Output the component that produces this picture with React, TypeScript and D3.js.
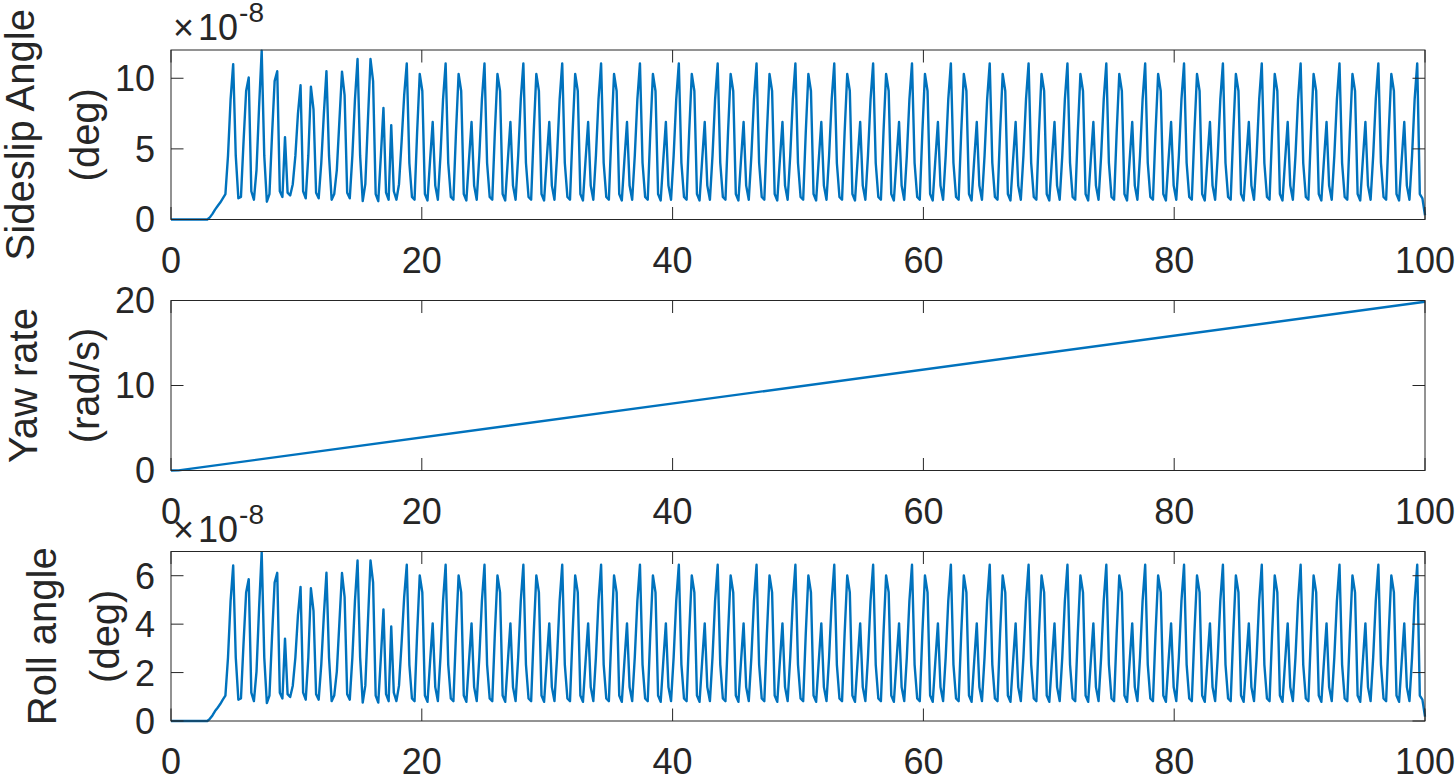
import React from 'react';
import * as d3 from 'd3';

// ---------- data ----------
const timeStep = 100 / 484; // uniform sample spacing of the simulation output (s)

const xTicks = [0, 20, 40, 60, 80, 100];
const sideslipTicks = [0, 5, 10];
const yawTicks = [0, 10, 20];
const rollTicks = [0, 2, 4, 6];

// sideslip angle (x1e-8 deg), 485 samples
const sideslipValues = [
  0,0,0,0,0,0,0,0,0,0,0,0,0,0,0,
  0.15,0.4,0.7,0.95,1.2,1.5,1.8,4.5,8.5,11.0,4.5,1.5,1.6,5.5,9.1,
  10.05,2.0,1.4,3.5,8.0,11.95,4.5,1.26,1.8,6.0,9.8,10.5,2.0,1.6,5.83,
  1.9,1.7,2.5,4.5,7.5,9.5,2.0,1.5,4.5,9.4,7.8,1.9,1.5,4.0,7.5,
  10.5,4.5,1.4,1.8,3.5,7.0,10.47,8.8,1.9,1.5,4.5,8.5,11.36,4.5,1.3,
  2.5,7.0,11.36,9.8,1.8,1.3,4.5,7.9,1.9,1.4,6.68,2.0,1.4,2.5,5.5,
  8.8,
  /* 01 */ 11.05,4.0,1.6,1.4,6.2,10.3,9.1,1.8,1.35,4.2,6.9,2.4,1.4,4.5,8.5,
  /* 02 */ 11.05,4.0,1.6,1.4,6.2,10.3,9.1,1.8,1.35,4.2,6.9,2.4,1.4,4.5,8.5,
  /* 03 */ 11.05,4.0,1.6,1.4,6.2,10.3,9.1,1.8,1.35,4.2,6.9,2.4,1.4,4.5,8.5,
  /* 04 */ 11.05,4.0,1.6,1.4,6.2,10.3,9.1,1.8,1.35,4.2,6.9,2.4,1.4,4.5,8.5,
  /* 05 */ 11.05,4.0,1.6,1.4,6.2,10.3,9.1,1.8,1.35,4.2,6.9,2.4,1.4,4.5,8.5,
  /* 06 */ 11.05,4.0,1.6,1.4,6.2,10.3,9.1,1.8,1.35,4.2,6.9,2.4,1.4,4.5,8.5,
  /* 07 */ 11.05,4.0,1.6,1.4,6.2,10.3,9.1,1.8,1.35,4.2,6.9,2.4,1.4,4.5,8.5,
  /* 08 */ 11.05,4.0,1.6,1.4,6.2,10.3,9.1,1.8,1.35,4.2,6.9,2.4,1.4,4.5,8.5,
  /* 09 */ 11.05,4.0,1.6,1.4,6.2,10.3,9.1,1.8,1.35,4.2,6.9,2.4,1.4,4.5,8.5,
  /* 10 */ 11.05,4.0,1.6,1.4,6.2,10.3,9.1,1.8,1.35,4.2,6.9,2.4,1.4,4.5,8.5,
  /* 11 */ 11.05,4.0,1.6,1.4,6.2,10.3,9.1,1.8,1.35,4.2,6.9,2.4,1.4,4.5,8.5,
  /* 12 */ 11.05,4.0,1.6,1.4,6.2,10.3,9.1,1.8,1.35,4.2,6.9,2.4,1.4,4.5,8.5,
  /* 13 */ 11.05,4.0,1.6,1.4,6.2,10.3,9.1,1.8,1.35,4.2,6.9,2.4,1.4,4.5,8.5,
  /* 14 */ 11.05,4.0,1.6,1.4,6.2,10.3,9.1,1.8,1.35,4.2,6.9,2.4,1.4,4.5,8.5,
  /* 15 */ 11.05,4.0,1.6,1.4,6.2,10.3,9.1,1.8,1.35,4.2,6.9,2.4,1.4,4.5,8.5,
  /* 16 */ 11.05,4.0,1.6,1.4,6.2,10.3,9.1,1.8,1.35,4.2,6.9,2.4,1.4,4.5,8.5,
  /* 17 */ 11.05,4.0,1.6,1.4,6.2,10.3,9.1,1.8,1.35,4.2,6.9,2.4,1.4,4.5,8.5,
  /* 18 */ 11.05,4.0,1.6,1.4,6.2,10.3,9.1,1.8,1.35,4.2,6.9,2.4,1.4,4.5,8.5,
  /* 19 */ 11.05,4.0,1.6,1.4,6.2,10.3,9.1,1.8,1.35,4.2,6.9,2.4,1.4,4.5,8.5,
  /* 20 */ 11.05,4.0,1.6,1.4,6.2,10.3,9.1,1.8,1.35,4.2,6.9,2.4,1.4,4.5,8.5,
  /* 21 */ 11.05,4.0,1.6,1.4,6.2,10.3,9.1,1.8,1.35,4.2,6.9,2.4,1.4,4.5,8.5,
  /* 22 */ 11.05,4.0,1.6,1.4,6.2,10.3,9.1,1.8,1.35,4.2,6.9,2.4,1.4,4.5,8.5,
  /* 23 */ 11.05,4.0,1.6,1.4,6.2,10.3,9.1,1.8,1.35,4.2,6.9,2.4,1.4,4.5,8.5,
  /* 24 */ 11.05,4.0,1.6,1.4,6.2,10.3,9.1,1.8,1.35,4.2,6.9,2.4,1.4,4.5,8.5,
  /* 25 */ 11.05,4.0,1.6,1.4,6.2,10.3,9.1,1.8,1.35,4.2,6.9,2.4,1.4,4.5,8.5,
  /* 26 */ 11.05,4.0,1.6,1.4,6.2,10.3,9.1,1.8,1.35,4.2,6.9,2.4,1.4,4.5,8.5,
  11.05,1.8,1.5,0.3,
];

// roll angle (x1e-8 deg), 485 samples
const rollValues = [
  0,0,0,0,0,0,0,0,0,0,0,0,0,0,0,
  0.09,0.23,0.41,0.55,0.7,0.88,1.05,2.62,4.96,6.42,2.62,0.88,0.93,3.21,5.31,
  5.86,1.17,0.82,2.04,4.67,6.97,2.62,0.74,1.05,3.5,5.72,6.12,1.17,0.93,3.4,
  1.11,0.99,1.46,2.62,4.37,5.54,1.17,0.88,2.62,5.48,4.55,1.11,0.88,2.33,4.37,
  6.12,2.62,0.82,1.05,2.04,4.08,6.11,5.13,1.11,0.88,2.62,4.96,6.63,2.62,0.76,
  1.46,4.08,6.63,5.72,1.05,0.76,2.62,4.61,1.11,0.82,3.9,1.17,0.82,1.46,3.21,
  5.13,
  /* 01 */ 6.45,2.33,0.93,0.82,3.62,6.01,5.31,1.05,0.79,2.45,4.03,1.4,0.82,2.63,4.96,
  /* 02 */ 6.45,2.33,0.93,0.82,3.62,6.01,5.31,1.05,0.79,2.45,4.03,1.4,0.82,2.63,4.96,
  /* 03 */ 6.45,2.33,0.93,0.82,3.62,6.01,5.31,1.05,0.79,2.45,4.03,1.4,0.82,2.63,4.96,
  /* 04 */ 6.45,2.33,0.93,0.82,3.62,6.01,5.31,1.05,0.79,2.45,4.03,1.4,0.82,2.63,4.96,
  /* 05 */ 6.45,2.33,0.93,0.82,3.62,6.01,5.31,1.05,0.79,2.45,4.03,1.4,0.82,2.63,4.96,
  /* 06 */ 6.45,2.33,0.93,0.82,3.62,6.01,5.31,1.05,0.79,2.45,4.03,1.4,0.82,2.63,4.96,
  /* 07 */ 6.45,2.33,0.93,0.82,3.62,6.01,5.31,1.05,0.79,2.45,4.03,1.4,0.82,2.63,4.96,
  /* 08 */ 6.45,2.33,0.93,0.82,3.62,6.01,5.31,1.05,0.79,2.45,4.03,1.4,0.82,2.63,4.96,
  /* 09 */ 6.45,2.33,0.93,0.82,3.62,6.01,5.31,1.05,0.79,2.45,4.03,1.4,0.82,2.63,4.96,
  /* 10 */ 6.45,2.33,0.93,0.82,3.62,6.01,5.31,1.05,0.79,2.45,4.03,1.4,0.82,2.63,4.96,
  /* 11 */ 6.45,2.33,0.93,0.82,3.62,6.01,5.31,1.05,0.79,2.45,4.03,1.4,0.82,2.63,4.96,
  /* 12 */ 6.45,2.33,0.93,0.82,3.62,6.01,5.31,1.05,0.79,2.45,4.03,1.4,0.82,2.63,4.96,
  /* 13 */ 6.45,2.33,0.93,0.82,3.62,6.01,5.31,1.05,0.79,2.45,4.03,1.4,0.82,2.63,4.96,
  /* 14 */ 6.45,2.33,0.93,0.82,3.62,6.01,5.31,1.05,0.79,2.45,4.03,1.4,0.82,2.63,4.96,
  /* 15 */ 6.45,2.33,0.93,0.82,3.62,6.01,5.31,1.05,0.79,2.45,4.03,1.4,0.82,2.63,4.96,
  /* 16 */ 6.45,2.33,0.93,0.82,3.62,6.01,5.31,1.05,0.79,2.45,4.03,1.4,0.82,2.63,4.96,
  /* 17 */ 6.45,2.33,0.93,0.82,3.62,6.01,5.31,1.05,0.79,2.45,4.03,1.4,0.82,2.63,4.96,
  /* 18 */ 6.45,2.33,0.93,0.82,3.62,6.01,5.31,1.05,0.79,2.45,4.03,1.4,0.82,2.63,4.96,
  /* 19 */ 6.45,2.33,0.93,0.82,3.62,6.01,5.31,1.05,0.79,2.45,4.03,1.4,0.82,2.63,4.96,
  /* 20 */ 6.45,2.33,0.93,0.82,3.62,6.01,5.31,1.05,0.79,2.45,4.03,1.4,0.82,2.63,4.96,
  /* 21 */ 6.45,2.33,0.93,0.82,3.62,6.01,5.31,1.05,0.79,2.45,4.03,1.4,0.82,2.63,4.96,
  /* 22 */ 6.45,2.33,0.93,0.82,3.62,6.01,5.31,1.05,0.79,2.45,4.03,1.4,0.82,2.63,4.96,
  /* 23 */ 6.45,2.33,0.93,0.82,3.62,6.01,5.31,1.05,0.79,2.45,4.03,1.4,0.82,2.63,4.96,
  /* 24 */ 6.45,2.33,0.93,0.82,3.62,6.01,5.31,1.05,0.79,2.45,4.03,1.4,0.82,2.63,4.96,
  /* 25 */ 6.45,2.33,0.93,0.82,3.62,6.01,5.31,1.05,0.79,2.45,4.03,1.4,0.82,2.63,4.96,
  /* 26 */ 6.45,2.33,0.93,0.82,3.62,6.01,5.31,1.05,0.79,2.45,4.03,1.4,0.82,2.63,4.96,
  6.45,1.05,0.88,0.18,
];

// yaw rate (rad/s)
const yawTimes = [0, 0.6, 100];
const yawValues = [0, 0.02, 19.85];

// ---------- layout ----------
const W = 1456;
const H = 776;
const X0 = 171;
const X1 = 1425;
const FONT = "'Liberation Sans', Arial, Helvetica, sans-serif";
const TEXT = '#262626';
const BLUE = '#0072BD';
const TICK_FS = 36;
const LABEL_FS = 40;
const TICK_LEN = 12.5;

type Panel = {
  top: number;
  bottom: number;
  domain: [number, number];
  ticks: number[];
  lines: [string, string];
  l1x: number;
  l2x: number;
  exponent: boolean;
  pts: [number, number][];
};

const toPts = (vals: number[]): [number, number][] => vals.map((v, i) => [i * timeStep, v]);

const panels: Panel[] = [
  { top: 50, bottom: 219.5, domain: [0, 12], ticks: sideslipTicks, lines: ['Sideslip Angle', '(deg)'], l1x: 33.5, l2x: 98.5, exponent: true, pts: toPts(sideslipValues) },
  { top: 300.5, bottom: 470.5, domain: [0, 20], ticks: yawTicks, lines: ['Yaw rate', '(rad/s)'], l1x: 36.5, l2x: 99, exponent: false, pts: yawTimes.map((t, i) => [t, yawValues[i]] as [number, number]) },
  { top: 551.5, bottom: 721, domain: [0, 7], ticks: rollTicks, lines: ['Roll angle', '(deg)'], l1x: 56, l2x: 119, exponent: true, pts: toPts(rollValues) },
];

const x = d3.scaleLinear().domain([0, 100]).range([X0, X1]);

function PanelView({ p }: { p: Panel }) {
  const y = d3.scaleLinear().domain(p.domain).range([p.bottom, p.top]);
  const line = d3.line<[number, number]>().x(d => x(d[0])).y(d => y(d[1]));
  const cy = (p.top + p.bottom) / 2;
  return (
    <g>
      <path d={line(p.pts) || ''} fill="none" stroke={BLUE} strokeWidth={2.4} strokeLinejoin="round" />
      {/* box */}
      <rect x={X0} y={p.top} width={X1 - X0} height={p.bottom - p.top} fill="none" stroke={TEXT} strokeWidth={1} />
      {/* x ticks (bottom and top, inward) */}
      {xTicks.map(t => (
        <g key={'x' + t}>
          <line x1={x(t)} x2={x(t)} y1={p.bottom} y2={p.bottom - TICK_LEN} stroke={TEXT} strokeWidth={1} />
          <line x1={x(t)} x2={x(t)} y1={p.top} y2={p.top + TICK_LEN} stroke={TEXT} strokeWidth={1} />
          <text x={x(t)} y={p.bottom + 53} textAnchor="middle" fontSize={TICK_FS} fontFamily={FONT} fill={TEXT}>{t}</text>
        </g>
      ))}
      {/* y ticks (left and right, inward) */}
      {p.ticks.map(t => (
        <g key={'y' + t}>
          <line x1={X0} x2={X0 + TICK_LEN} y1={y(t)} y2={y(t)} stroke={TEXT} strokeWidth={1} />
          <line x1={X1} x2={X1 - TICK_LEN} y1={y(t)} y2={y(t)} stroke={TEXT} strokeWidth={1} />
          <text x={155} y={y(t)} dy="0.36em" textAnchor="end" fontSize={TICK_FS} fontFamily={FONT} fill={TEXT}>{t}</text>
        </g>
      ))}
      {/* y label, two lines */}
      <text transform={`translate(${p.l1x},${cy}) rotate(-90)`} textAnchor="middle" fontSize={LABEL_FS} fontFamily={FONT} fill={TEXT}>{p.lines[0]}</text>
      <text transform={`translate(${p.l2x},${cy}) rotate(-90)`} textAnchor="middle" fontSize={LABEL_FS} fontFamily={FONT} fill={TEXT}>{p.lines[1]}</text>
      {p.exponent && (
        <text x={173} y={p.top - 10} fontSize={TICK_FS} fontFamily={FONT} fill={TEXT}>
          <tspan>×</tspan>
          <tspan dx={4}>10</tspan>
          <tspan dx={1} dy={-18} fontSize={28}>-8</tspan>
        </text>
      )}
    </g>
  );
}

export default function App() {
  return (
    <svg width={W} height={H} viewBox={`0 0 ${W} ${H}`} style={{ position: 'absolute', left: 0, top: 0, background: '#fff' }}>
      <rect x={0} y={0} width={W} height={H} fill="#fff" />
      {panels.map((p, i) => <PanelView key={i} p={p} />)}
    </svg>
  );
}
